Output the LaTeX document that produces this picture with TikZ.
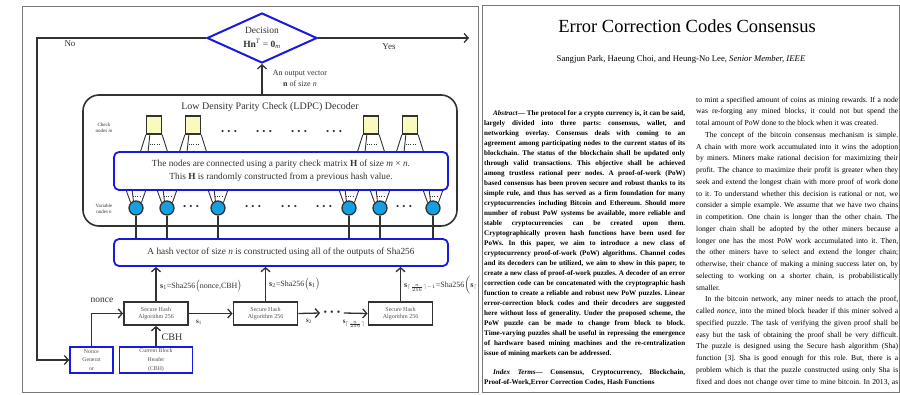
\documentclass[tikz,border=0pt]{standalone}
\usepackage{fontspec}
\setmainfont{Liberation Serif}
\usetikzlibrary{shapes.geometric,arrows.meta,calc}
\frenchspacing

\definecolor{edgeblue}{RGB}{25,25,225}
\definecolor{varblue}{RGB}{20,160,225}
\definecolor{checkyellow}{RGB}{250,250,190}
\definecolor{ink}{RGB}{50,50,50}
\definecolor{framegray}{RGB}{120,120,120}

% one typeset line of a column: justified, paragraph end, indented
\newcommand\jline[1]{\hbox to\hsize{#1}}
\newcommand\eline[1]{\hbox to\hsize{#1\hfil}}
\newcommand\ijline[1]{\hbox to\hsize{\hskip 9pt #1}}
\newcommand\colbox[2]{\vbox{\hsize=#1\relax #2}}
\newcommand\tdots{•\hspace{3.2pt}•\hspace{3.2pt}•}
\newcommand\ceilsub{\lceil\frac{n}{256}\rceil}

\begin{document}
\begin{tikzpicture}[x=1pt,y=-1pt,
  conn/.style={draw=ink,line width=1.3pt},
  arr/.style={conn,-{Straight Barb[length=4pt,width=9pt,line width=1.3pt]}},
  fan/.style={draw=ink,line width=0.9pt},
  fandots/.style={draw=ink,line width=0.8pt,dash pattern=on 0.8pt off 1.4pt},
  bluebox/.style={draw=edgeblue,line width=1.8pt,rounded corners=5pt,fill=white,text=ink,align=center,inner sep=0pt},
  shabox/.style={draw=ink,line width=1.8pt,fill=white,minimum width=64pt,minimum height=23pt,inner sep=0pt,align=center,text=ink!85,font=\fontsize{6}{7.5}\selectfont},
  srcbox/.style={draw=edgeblue,line width=1.6pt,fill=white,inner sep=0pt,minimum height=26pt,align=center,text=ink!85,font=\fontsize{5.8}{8.6}\selectfont},
  checknode/.style={draw=ink,line width=1.3pt,fill=checkyellow,minimum width=15pt,minimum height=18pt,inner sep=0pt},
  varnode/.style={circle,draw=ink,line width=1.3pt,fill=varblue,minimum size=14pt,inner sep=0pt},
  dotrow/.style={inner sep=0pt,text=ink,font=\fontsize{9}{9}\selectfont},
  lbl/.style={inner sep=0pt,text=ink},
  panel/.style={draw=framegray,line width=1pt}
]
\useasboundingbox (0,0) rectangle (900,394);

% ---------- the two panels ----------
\draw[panel] (22,6) rectangle (478,392);
\draw[panel] (482,5) rectangle (899,392);

% ---------- decision ----------
\node[diamond,draw=edgeblue,line width=2pt,aspect=2.2,minimum width=110pt,minimum height=50pt,
      inner sep=0pt,align=center,text=ink,font=\fontsize{9.5}{13.5}\selectfont,fill=white]
  (dec) at (262,38) {Decision\\\textbf{Hn}\textsuperscript{\textit{T}} = \textbf{0}\textsubscript{\textit{m}}};
\coordinate (yesend) at (469,38);
\coordinate (nocorner) at (37,38);
\node[lbl,font=\fontsize{9}{9}\selectfont] (nolbl) at (70,44) {No};
\node[lbl,font=\fontsize{9}{9}\selectfont] (yeslbl) at (389,47) {Yes};

% ---------- LDPC decoder ----------
\node[draw=ink,line width=1.6pt,rounded corners=16pt,minimum width=374pt,minimum height=131pt,inner sep=0pt]
  (ldpc) at (270,160.5) {};
\node[lbl,font=\fontsize{10}{10}\selectfont] (ldpct) at (270,107) {Low Density Parity Check (LDPC) Decoder};
\node[lbl,font=\fontsize{5}{6.5}\selectfont,align=center] (chklbl) at (104,128) {Check\\nodes \textit{m}};
\node[lbl,font=\fontsize{5}{6.5}\selectfont,align=center] (varlbl) at (104,209) {Variable\\nodes \textit{n}};

\draw[arr] (ldpc.north -| dec.south) -- (dec.south);
\node[lbl,font=\fontsize{8}{11}\selectfont,align=center] (outlbl) at (300,78) {An output vector\\\textbf{n} of size \textit{n}};

% check nodes and their edges
\foreach \i/\x in {1/154,2/193,3/371,4/410}{
  \node[checknode] (c\i) at (\x,125) {};
  \draw[fan] (c\i.south west) -- ++(-6,19);
  \draw[fan] ($(c\i.south west)+(4,0)$) -- ++(-2,19);
  \draw[fan] (c\i.south east) -- ++(6,19);
  \draw[fandots] ($(c\i.south)+(-4,10)$) -- ++(9,0);
}
\foreach \i/\x in {1/229,2/264,3/299,4/334}
  \node[dotrow] (cd\i) at (\x,132) {\tdots};

% variable nodes and their edges
\foreach \i/\x in {1/136,2/167,3/218,4/349,5/380,6/433}{
  \node[varnode] (v\i) at (\x,208) {};
  \draw[fan] (v\i.north west) -- ++(-5,-14);
  \draw[fan] (v\i.110) -- ++(-1.5,-13);
  \draw[fan] (v\i.north east) -- ++(5,-14);
  \draw[fandots] ($(v\i.center)+(-3,-12)$) -- ++(8,0);
}
\foreach \i/\x in {1/191,2/253,3/289,4/324,5/404}
  \node[dotrow] (vd\i) at (\x,207) {\tdots};

\node[bluebox,minimum width=334pt,minimum height=38pt,font=\fontsize{9.3}{13}\selectfont]
  (hmat) at (281,171) {The nodes are connected using a parity check matrix \textbf{H} of size \textit{m} × \textit{n}.\\This \textbf{H} is randomly constructed from a previous hash value.};

% ---------- hash vector ----------
\node[bluebox,minimum width=334pt,minimum height=27pt,font=\fontsize{9.3}{11}\selectfont]
  (hash) at (281,252.5) {A hash vector of size \textit{n} is constructed using all of the outputs of Sha256};
\foreach \i in {1,...,6}
  \draw[conn] (v\i.south) -- (v\i.south |- hash.north);

% ---------- Sha256 chain ----------
\node[shabox] (sha1) at (156,313.5) {Secure Hash\\Algorithm 256};
\node[shabox] (sha2) at (265.5,313.5) {Secure Hash\\Algorithm 256};
\node[shabox] (sha3) at (400.5,313.5) {Secure Hash\\Algorithm 256};
\node[dotrow,outer sep=3.5pt,font=\fontsize{10}{10}\selectfont] (chdots) at (332,313) {\tdots};

\draw[arr] (sha1.north) -- (sha1.north |- hash.south);
\draw[arr] (sha2.north) -- (sha2.north |- hash.south);
\draw[arr] (sha3.north) -- (sha3.north |- hash.south);
\draw[arr] (sha1.east) -- (sha2.west);
\draw[arr] (sha2.east) -- (chdots.west);
\draw[arr] (chdots.east) -- (sha3.west);

\node[lbl,anchor=west,font=\fontsize{8}{8}\selectfont] (s1eq) at (160,286)
  {\textbf{s}\textsubscript{1}=Sha256$\bigl($nonce,CBH$\bigr)$};
\node[lbl,anchor=west,font=\fontsize{8}{8}\selectfont] (s2eq) at (269,284)
  {\textbf{s}\textsubscript{2}=Sha256$\bigl($\textbf{s}\textsubscript{1}$\bigr)$};
\begin{scope}
  \clip (22,6) rectangle (477,392);
  \node[lbl,anchor=west,font=\fontsize{8}{8}\selectfont] (s3eq) at (404,285)
    {\textbf{s}$_{\scriptscriptstyle\ceilsub-1}$=Sha256$\Bigl($\textbf{s}$_{\scriptscriptstyle\ceilsub}$};
\end{scope}
\node[lbl,font=\fontsize{7}{7}\selectfont] (s1lbl) at (199,322) {\textbf{s}\textsubscript{1}};
\node[lbl,font=\fontsize{7}{7}\selectfont] (s2lbl) at (309,321) {\textbf{s}\textsubscript{2}};
\node[lbl,font=\fontsize{7}{7}\selectfont] (snlbl) at (354,324) {\textbf{s}$_{\scriptscriptstyle\ceilsub}$};

% ---------- inputs ----------
\node[srcbox,minimum width=43pt] (ngen) at (91.5,360) {Nonce\\Generat\\or};
\node[srcbox,minimum width=73pt] (cbh) at (156,360) {Current Block\\Header\\(CBH)};
\draw[arr] (ngen.north) |- (sha1.west);
\draw[arr] (cbh.north) -- (sha1.south);
\node[lbl,font=\fontsize{9.5}{9.5}\selectfont] (noncelbl) at (102,300) {nonce};
\node[lbl,font=\fontsize{10}{10}\selectfont] (cbhlbl) at (172,337) {CBH};

% ---------- yes / no ----------
\draw[arr] (dec.east) -- (yesend);
\draw[arr] (dec.west) -- (nocorner) |- (ngen.west);

% ---------- paper page ----------
\node[inner sep=0pt,font=\fontsize{18.5}{20}\selectfont] (title) at (687,26) {Error Correction Codes Consensus};
\node[inner sep=0pt,font=\fontsize{8.7}{10}\selectfont] (authors) at (681,59)
  {Sangjun Park, Haeung Choi, and Heung-No Lee, \textit{Senior Member, IEEE}};

\node[anchor=north west,inner sep=0pt,font=\bfseries\fontsize{7.1}{10}\selectfont] (abstract) at (484,110.5) {\colbox{201pt}{%
\ijline{\textit{Abstract}— The protocol for a crypto currency is, it can be said,}
\jline{largely divided into three parts: consensus, wallet, and}
\jline{networking overlay. Consensus deals with coming to an}
\jline{agreement among participating nodes to the current status of its}
\jline{blockchain. The status of the blockchain shall be updated only}
\jline{through valid transactions. This objective shall be achieved}
\jline{among trustless rational peer nodes. A proof-of-work (PoW)}
\jline{based consensus has been proven secure and robust thanks to its}
\jline{simple rule, and thus has served as a firm foundation for many}
\jline{cryptocurrencies including Bitcoin and Ethereum. Should more}
\jline{number of robust PoW systems be available, more reliable and}
\jline{stable cryptocurrencies can be created upon them.}
\jline{Cryptographically proven hash functions have been used for}
\jline{PoWs. In this paper, we aim to introduce a new class of}
\jline{cryptocurrency proof-of-work (PoW) algorithms. Channel codes}
\jline{and its decoders can be utilized, we aim to show in this paper, to}
\jline{create a new class of proof-of-work puzzles. A decoder of an error}
\jline{correction code can be concatenated with the cryptographic hash}
\jline{function to create a reliable and robust new PoW puzzles. Linear}
\jline{error-correction block codes and their decoders are suggested}
\jline{here without loss of generality. Under the proposed scheme, the}
\jline{PoW puzzle can be made to change from block to block.}
\jline{Time-varying puzzles shall be useful in repressing the emergence}
\jline{of hardware based mining machines and the re-centralization}
\eline{issue of mining markets can be addressed.}
\vskip 9pt
\ijline{\textit{Index Terms}— Consensus, Cryptocurrency, Blockchain,}
\eline{Proof-of-Work,Error Correction Codes, Hash Functions}
}};

\node[anchor=north west,inner sep=0pt,font=\fontsize{7.6}{11.75}\selectfont] (body) at (696,96.5) {\colbox{202pt}{%
\jline{to mint a specified amount of coins as mining rewards. If a node}
\jline{was re-forging any mined blocks, it could not but spend the}
\eline{total amount of PoW done to the block when it was created.}
\ijline{The concept of the bitcoin consensus mechanism is simple.}
\jline{A chain with more work accumulated into it wins the adoption}
\jline{by miners. Miners make rational decision for maximizing their}
\jline{profit. The chance to maximize their profit is greater when they}
\jline{seek and extend the longest chain with more proof of work done}
\jline{to it. To understand whether this decision is rational or not, we}
\jline{consider a simple example. We assume that we have two chains}
\jline{in competition. One chain is longer than the other chain. The}
\jline{longer chain shall be adopted by the other miners because a}
\jline{longer one has the most PoW work accumulated into it. Then,}
\jline{the other miners have to select and extend the longer chain;}
\jline{otherwise, their chance of making a mining success later on, by}
\jline{selecting to working on a shorter chain, is probabilistically}
\eline{smaller.}
\ijline{In the bitcoin network, any miner needs to attach the proof,}
\jline{called \textit{nonce}, into the mined block header if this miner solved a}
\jline{specified puzzle. The task of verifying the given proof shall be}
\jline{easy but the task of obtaining the proof shall be very difficult.}
\jline{The puzzle is designed using the Secure hash algorithm (Sha)}
\jline{function [3]. Sha is good enough for this role. But, there is a}
\jline{problem which is that the puzzle constructed using only Sha is}
\jline{fixed and does not change over time to mine bitcoin. In 2013, as}
}};
\end{tikzpicture}
\end{document}
